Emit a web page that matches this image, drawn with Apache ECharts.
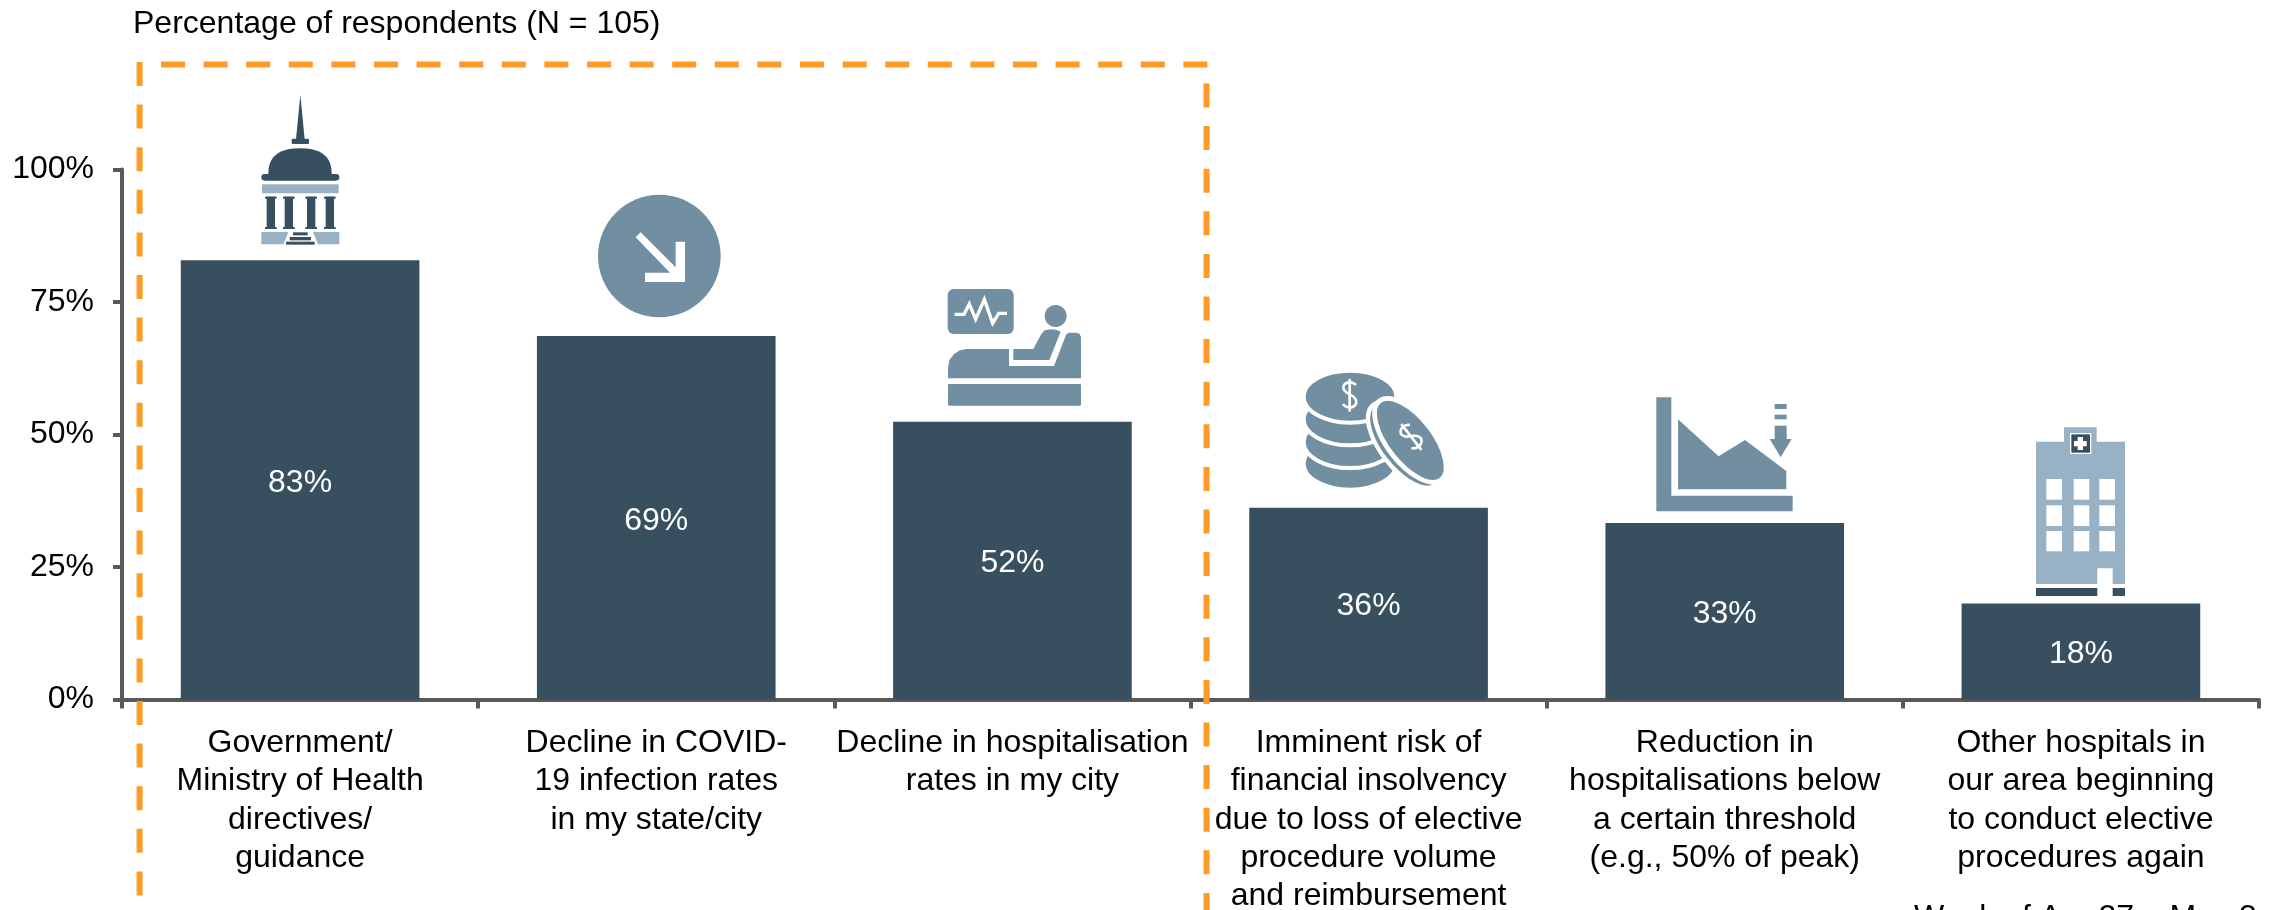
<!DOCTYPE html>
<html>
<head>
<meta charset="utf-8">
<title>Percentage of respondents</title>
<style>
  html, body { margin: 0; padding: 0; background: #fff; overflow: hidden; }
  #chart { width: 2271px; height: 910px; }
</style>
<script src="https://cdn.jsdelivr.net/npm/echarts@6/dist/echarts.min.js"></script>
</head>
<body>
<div id="chart"></div>
<script>
var categories = [
  "Government/\nMinistry of Health\ndirectives/\nguidance",
  "Decline in COVID-\n19 infection rates\nin my state/city",
  "Decline in hospitalisation\nrates in my city",
  "Imminent risk of\nfinancial insolvency\ndue to loss of elective\nprocedure volume\nand reimbursement",
  "Reduction in\nhospitalisations below\na certain threshold\n(e.g., 50% of peak)",
  "Other hospitals in\nour area beginning\nto conduct elective\nprocedures again"
];
var shares = [82.9, 68.6, 52.4, 36.2, 33.3, 18.1];
var titleText = "Percentage of respondents (N = 105)";
var footText = "Week of Apr 27 – May 3";

var FONT = '"Liberation Sans", Arial, sans-serif';
var DARK = "#384f5f";
var MID = "#728ea1";
var LIGHT = "#98b1c4";
var ORANGE = "#ff9a24";
var AXIS = "#595959";
var Z = 20;

function poly(points, fill) {
  return { type: "polygon", z: Z, shape: { points: points }, style: { fill: fill } };
}
function box(x, y, w, h, fill, r) {
  return { type: "rect", z: Z, shape: { x: x, y: y, width: w, height: h, r: r || 0 }, style: { fill: fill } };
}
function oval(cx, cy, rx, ry, fill, deg, edge) {
  var el = {
    type: "ellipse", z: Z, x: cx, y: cy, rotation: (deg || 0) * Math.PI / 180,
    shape: { cx: 0, cy: 0, rx: rx, ry: ry }, style: { fill: fill }
  };
  if (edge) { el.style.stroke = "#fff"; el.style.lineWidth = edge; }
  return el;
}
// upper half of a slightly squared ellipse as points, for the dome
function dome(cx, cy, rx, ry) {
  var pts = [];
  for (var i = 0; i <= 24; i++) {
    var a = Math.PI * i / 24;
    var c = Math.cos(a);
    pts.push([cx - rx * (c < 0 ? -1 : 1) * Math.pow(Math.abs(c), 0.8), cy - ry * Math.pow(Math.sin(a), 0.8)]);
  }
  return pts;
}
function dollar(x, y, deg) {
  var rot = (deg || 0) * Math.PI / 180;
  var line = { fill: null, stroke: "#fff", lineWidth: 8 };
  return {
    type: "group", x: x, y: y, rotation: rot,
    children: [
      {
        type: "polyline", z: Z,
        shape: { smooth: 0.5, points: [[19, -31], [8, -38], [-8, -38], [-19, -27], [-14, -13], [0, -3], [15, 8], [20, 22], [10, 34], [-8, 35], [-20, 26]] },
        style: line
      },
      { type: "line", z: Z, shape: { x1: 0, y1: -49, x2: 0, y2: 49 }, style: line }
    ]
  };
}
// icons are laid out in 3x units, the group scales them back down
function icon(x, y, children) {
  return { type: "group", x: x, y: y, scaleX: 1 / 3, scaleY: 1 / 3, children: children };
}
function dashed(x1, y1, x2, y2) {
  return {
    type: "line", z: Z + 1, shape: { x1: x1, y1: y1, x2: x2, y2: y2 },
    style: { stroke: ORANGE, lineWidth: 6, lineDash: [24, 18.6] }
  };
}

var capitol = icon(220, 80, [
  poly([[241, 45], [254, 178], [228, 178]], DARK),
  box(215, 176, 52, 16, DARK, 4),
  poly(dome(240, 283, 95, 78), DARK),
  box(124, 282, 234, 20, DARK, 10),
  box(126, 313, 230, 27, LIGHT, 2),
  box(140, 350, 25, 97, DARK), box(135, 350, 35, 6, DARK), box(135, 441, 35, 6, DARK),
  box(194, 350, 25, 97, DARK), box(189, 350, 35, 6, DARK), box(189, 441, 35, 6, DARK),
  box(261, 350, 25, 97, DARK), box(256, 350, 35, 6, DARK), box(256, 441, 35, 6, DARK),
  box(317, 350, 25, 97, DARK), box(312, 350, 35, 6, DARK), box(312, 441, 35, 6, DARK),
  poly([[124, 456], [205, 456], [190, 493], [124, 493]], LIGHT),
  poly([[279, 456], [358, 456], [358, 493], [294, 493]], LIGHT),
  box(219, 457, 44, 9, DARK), box(209, 471, 64, 10, DARK), box(198, 485, 86, 9, DARK)
]);

var arrowBadge = icon(590, 180, [
  oval(208, 228, 184, 184, MID),
  poly([[137, 172], [152, 157], [257, 262], [257, 185], [285, 185], [285, 306], [165, 306], [165, 278], [240, 278]], "#fff")
]);

var patient = icon(940, 280, [
  box(23, 27, 198, 135, MID, 18),
  {
    type: "polyline", z: Z,
    shape: { points: [[44, 103], [72, 103], [88, 72], [107, 118], [133, 58], [158, 130], [176, 100], [201, 100]] },
    style: { fill: null, stroke: "#fff", lineWidth: 10 }
  },
  oval(347, 108, 33, 33, MID),
  poly([[220, 207], [280, 207], [304, 162], [314, 151], [330, 148], [348, 149], [362, 155], [328, 240], [220, 240]], MID),
  poly([[24, 295], [24, 265], [28, 240], [42, 222], [60, 211], [80, 207], [207, 207], [207, 258], [342, 258], [378, 165], [384, 159], [395, 158], [410, 158], [419, 162], [423, 172], [423, 295]], MID),
  box(24, 312, 399, 65, MID, 4)
]);

var coins = icon(1295, 365, [
  oval(165, 296, 139, 78, MID, 0, 12),
  oval(165, 231, 139, 78, MID, 0, 12),
  oval(165, 163, 139, 78, MID, 0, 12),
  oval(165, 95, 139, 78, MID, 0, 12),
  dollar(164, 91, 0),
  oval(329, 240, 146, 65, "#fff", -52, 26),
  oval(329, 240, 146, 65, MID, -52),
  oval(346, 226, 150, 69, MID, -52, 14),
  dollar(349, 216, 38)
]);

var areaChart = icon(1640, 385, [
  poly([[49, 37], [94, 37], [94, 332], [458, 332], [458, 379], [49, 379]], MID),
  poly([[114, 103], [236, 214], [315, 165], [439, 258], [439, 313], [114, 313]], MID),
  box(404, 57, 36, 15, MID), box(404, 89, 36, 14, MID), box(404, 122, 36, 42, MID),
  poly([[389, 162], [455, 162], [422, 217]], MID)
]);

var hospital = icon(2020, 420, [
  poly([[48, 65], [132, 65], [132, 22], [230, 22], [230, 65], [315, 65], [315, 492], [278, 492], [278, 445], [232, 445], [232, 492], [48, 492]], LIGHT),
  box(150, 39, 64, 63, "#fff"),
  box(154, 43, 56, 55, DARK),
  box(162, 63, 38, 16, "#fff"),
  box(173, 51, 16, 39, "#fff"),
  box(79, 177, 47, 62, "#fff"), box(161, 177, 47, 62, "#fff"), box(238, 177, 47, 62, "#fff"),
  box(79, 256, 47, 62, "#fff"), box(161, 256, 47, 62, "#fff"), box(238, 256, 47, 62, "#fff"),
  box(79, 333, 47, 61, "#fff"), box(161, 333, 47, 61, "#fff"), box(238, 333, 47, 61, "#fff"),
  box(48, 504, 184, 24, DARK),
  box(278, 504, 37, 24, DARK)
]);

var myChart = echarts.init(document.getElementById("chart"), null, { renderer: "canvas" });
var option = {
  animation: false,
  backgroundColor: "#fff",
  textStyle: { fontFamily: FONT },
  title: {
    text: titleText,
    left: 133,
    top: 8,
    padding: 0,
    textStyle: { fontFamily: FONT, fontSize: 32, fontWeight: "normal", color: "#000" }
  },
  grid: { left: 122, right: 12, top: 169.5, bottom: 210.5, containLabel: false, outerBoundsMode: "none" },
  xAxis: {
    type: "category",
    data: categories,
    axisTick: { show: true, length: 9, lineStyle: { color: AXIS, width: 4 } },
    axisLine: { lineStyle: { color: AXIS, width: 4 } },
    axisLabel: {
      interval: 0,
      margin: 24.5,
      color: "#000",
      fontFamily: FONT,
      fontSize: 32,
      lineHeight: 38.3,
      align: "center"
    }
  },
  yAxis: {
    type: "value",
    min: 0,
    max: 100,
    interval: 25,
    splitLine: { show: false },
    axisLine: { show: true, lineStyle: { color: AXIS, width: 4 } },
    axisTick: { show: true, length: 9, lineStyle: { color: AXIS, width: 4 } },
    axisLabel: {
      margin: 28,
      color: "#000",
      fontFamily: FONT,
      fontSize: 32,
      padding: [3, 0, 0, 0],
      formatter: "{value}%"
    }
  },
  series: [{
    type: "bar",
    data: shares,
    barWidth: "67%",
    itemStyle: { color: DARK },
    label: {
      show: true,
      position: "inside",
      offset: [0, 3],
      color: "#fff",
      fontFamily: FONT,
      fontSize: 32,
      formatter: function (p) { return Math.round(p.value) + "%"; }
    }
  }],
  graphic: { elements: [
    dashed(139.6, 62, 139.6, 915),
    dashed(161, 64.5, 1210, 64.5),
    dashed(1206.5, 83.5, 1206.5, 915),
    capitol, arrowBadge, patient, coins, areaChart, hospital,
    {
      type: "text", z: Z, x: 1914, y: 918,
      style: { text: footText, font: "32px " + FONT, fill: "#000", verticalAlign: "middle" }
    }
  ] }
};
myChart.setOption(option);
</script>
</body>
</html>
